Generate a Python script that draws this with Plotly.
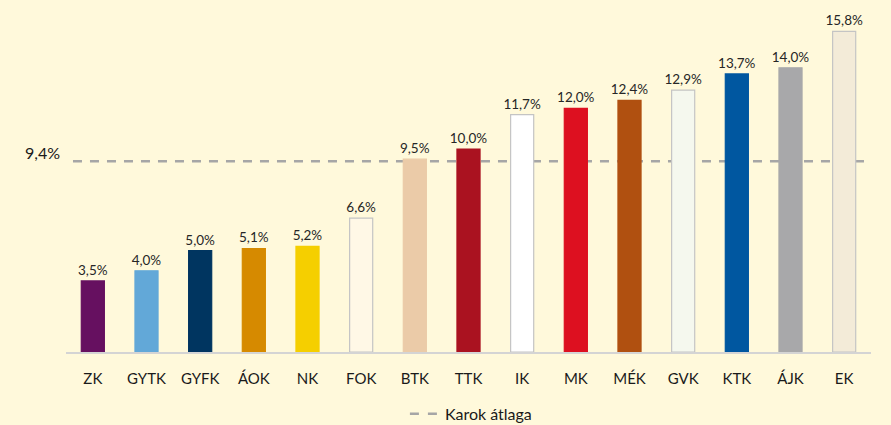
import plotly.graph_objects as go

categories = ["ZK", "GYTK", "GYFK", "ÁOK", "NK", "FOK", "BTK", "TTK", "IK", "MK", "MÉK", "GVK", "KTK", "ÁJK", "EK"]
values = [3.5, 4.0, 5.0, 5.1, 5.2, 6.6, 9.5, 10.0, 11.7, 12.0, 12.4, 12.9, 13.7, 14.0, 15.8]
value_labels = ["3,5%", "4,0%", "5,0%", "5,1%", "5,2%", "6,6%", "9,5%", "10,0%", "11,7%", "12,0%", "12,4%", "12,9%", "13,7%", "14,0%", "15,8%"]
bar_colors = ["#661060", "#62A8D8", "#003560", "#D68A00", "#F5CF00", "#FFF8E6", "#EBCBA8", "#AA1220",
              "#FFFFFF", "#DD1020", "#B05010", "#F5F8EE", "#0057A0", "#A8A8AA", "#F3EBD8"]
outline_colors = ["#661060", "#62A8D8", "#003560", "#D68A00", "#F5CF00", "#C4C4C4", "#EBCBA8", "#AA1220",
                  "#C4C4C4", "#DD1020", "#B05010", "#C4C4C4", "#0057A0", "#A8A8AA", "#C4C4C4"]
average = 9.4
average_label = "9,4%"
legend_name = "Karok átlaga"

bg = "#FFF9DB"
font = "Lato, 'Open Sans', sans-serif"

fig = go.Figure()
fig.add_trace(go.Bar(
    x=categories, y=values,
    marker=dict(color=bar_colors, line=dict(color=outline_colors, width=1.2)),
    width=0.43,
    text=value_labels, textposition="outside", cliponaxis=False, constraintext="none",
    textfont=dict(size=13.5, color="#262626", family=font),
    showlegend=False, hoverinfo="skip",
))
fig.add_trace(go.Scatter(
    x=[None], y=[None], mode="lines", name=legend_name,
    line=dict(color="#A6A6A6", width=2.5, dash="dash"),
))
fig.add_shape(type="line", xref="x", yref="y", x0=-0.37, x1=14.45, y0=average, y1=average,
              line=dict(color="#A6A6A6", width=2.5, dash="9px,8px"), layer="below")
fig.add_annotation(xref="paper", yref="y", x=-0.005, y=average, text=average_label, showarrow=False,
                   xanchor="right", yanchor="bottom", yshift=-3,
                   font=dict(size=16, color="#1A1A1A", family=font))

fig.update_layout(
    width=891, height=425,
    paper_bgcolor=bg, plot_bgcolor=bg,
    margin=dict(l=66, r=20, t=10, b=73, autoexpand=False),
    bargap=0.5,
    xaxis=dict(showgrid=False, showline=True, linecolor="#D4D4D4", linewidth=2, automargin=False,
               ticks="", ticklabelstandoff=12,
               tickfont=dict(size=15, color="#1A1A1A", family=font)),
    yaxis=dict(range=[0, 16.85], visible=False, showgrid=False, zeroline=False),
    showlegend=True,
    legend=dict(orientation="h", x=0.503, xanchor="center", yref="container", y=0.066, yanchor="top",
                font=dict(size=16, color="#1A1A1A", family=font), bgcolor="rgba(0,0,0,0)"),
    font=dict(family=font),
)

fig.write_html("out.html", config={"displayModeBar": False},
               post_script="document.body.style.margin='0';document.body.style.background='%s';" % bg)
